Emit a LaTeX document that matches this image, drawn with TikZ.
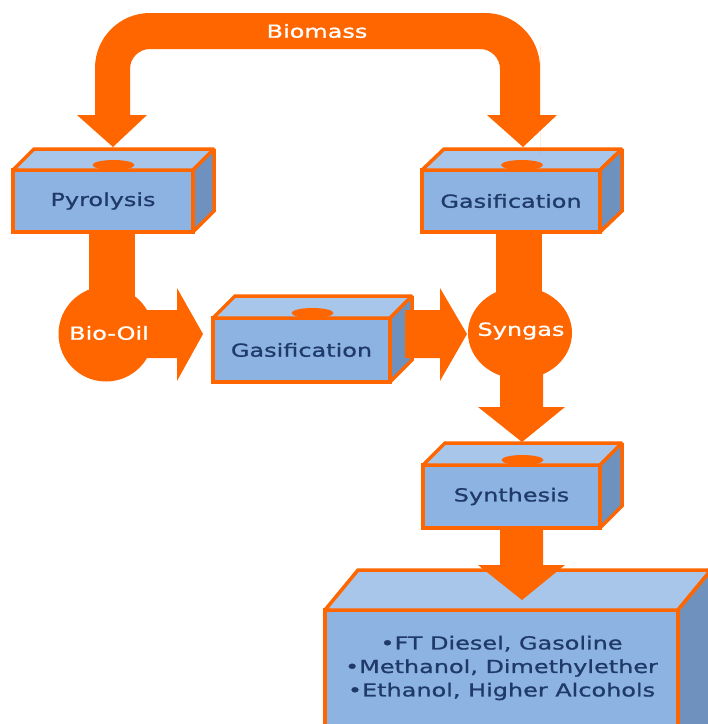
\documentclass[tikz,border=0pt]{standalone}
\usepackage{fontspec}
\setmainfont{DejaVu Sans}[FakeStretch=1.33,FakeBold=1]
\usetikzlibrary{calc,shapes.geometric}
\definecolor{org}{HTML}{FF6600}
\definecolor{frontc}{HTML}{8DB3E2}
\definecolor{topc}{HTML}{A8C5EA}
\definecolor{sidec}{HTML}{6F91BD}
\definecolor{navy}{HTML}{1F3A68}
\newcommand\cuboid[4][1]{% [lid] name, depth, height
  \draw[face, fill=topc] (#2.north west) -- ++(#3,-#4) -- ($(#2.north east)+(#3,-#4)$) -- (#2.north east) -- cycle;
  \draw[face, fill=sidec] (#2.north east) -- ++(#3,-#4) -- ($(#2.south east)+(#3,-#4)$) -- (#2.south east) -- cycle;
  \ifnum#1=1
  \fill[org] ($(#2.north)+(#3/2,-5)$) ellipse [x radius=21pt, y radius=5pt];
  \fi
}
\begin{document}
\begin{tikzpicture}[x=1pt,y=-1pt,
  face/.style={draw=org, line width=3.5pt, line join=miter, miter limit=1.5},
  front/.style={face, fill=frontc, rectangle, outer sep=0pt, inner sep=0pt,
    text=navy, font=\fontsize{18}{23.5}\selectfont, align=center},
  flow/.style={fill=org},
  wlabel/.style={text=white, font=\fontsize{18}{22}\selectfont, inner sep=0pt},
  blabel/.style={text=navy, font=\fontsize{18}{23.5}\selectfont, align=center, inner sep=0pt}]

\useasboundingbox (0,0) rectangle (708,724);
\clip (0,0) rectangle (708,724);

% boxes
\node[front, minimum width=180pt, minimum height=62pt] (pyro) at (103,201) {Pyrolysis};
\cuboid{pyro}{21}{21}
\node[front, minimum width=178pt, minimum height=62pt] (gas1) at (511,201) {Gasification};
\cuboid{gas1}{22}{21}
\node[front, minimum width=177pt, minimum height=64pt] (gas2) at (301.5,350) {Gasification};
\cuboid{gas2}{22}{22}
\node[front, minimum width=177pt, minimum height=63pt] (synth) at (511.5,496.5) {Synthesis};
\cuboid{synth}{22}{22}
\node[front, minimum width=353pt, minimum height=160pt] (prod) at (501.5,690) {};
\cuboid[0]{prod}{33}{40}
\node[blabel] (prodtext) at (501.5,668) {•FT Diesel, Gasoline\\•Methanol, Dimethylether\\•Ethanol, Higher Alcohols};

% biomass arch
\fill[flow] (77,115) -- (95,115) -- (95,100) [rounded corners=55pt] -- (95,13) -- (540,13) -- (540,100) [sharp corners]
  -- (540,115) -- (557,115) -- (523,147) -- (487,115) -- (500,115) -- (500,100) [rounded corners=20pt]
  -- (500,49) -- (130,49) -- (130,100) [sharp corners] -- (130,115) -- (147,115) -- (113,147) -- cycle;

% left column
\fill[flow] (89,232) rectangle (135,300);
\node[circle, fill=org, minimum size=95pt, inner sep=0pt] (biooil) at (106,334) {};
\fill[flow] (140,310) -- (177,310) -- (177,288) -- (203,334) -- (177,381) -- (177,358) -- (140,358) -- cycle;

% middle to syngas
\fill[flow] (405,310) -- (440,310) -- (440,288) -- (467,334) -- (440,381) -- (440,358) -- (405,358) -- cycle;

% right column
\fill[flow] (496,232) rectangle (542,300);
\node[ellipse, fill=org, minimum width=104pt, minimum height=92pt, inner sep=0pt] (syngas) at (520,333) {};
\fill[flow] (500,360) -- (543,360) -- (543,407) -- (565,407) -- (522,442) -- (478,407) -- (500,407) -- cycle;
\fill[flow] (500,530) -- (543,530) -- (543,565) -- (565,565) -- (522,600) -- (478,565) -- (500,565) -- cycle;

% white labels
\node[wlabel] (biomass-l) at (317,31) {Biomass};
\node[wlabel] (biooil-l) at (109,333) {Bio-Oil};
\node[wlabel] (syngas-l) at (521,331) {Syngas};
\end{tikzpicture}
\end{document}
